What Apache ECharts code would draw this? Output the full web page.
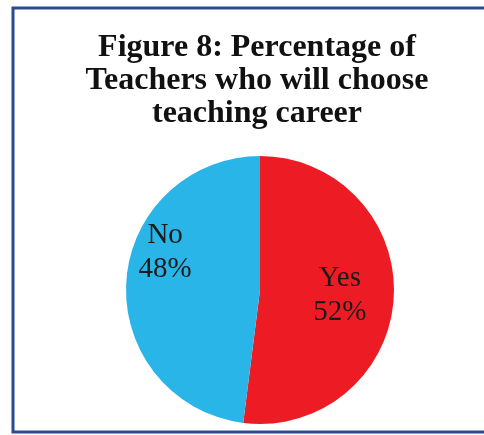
<!DOCTYPE html>
<html>
<head>
<meta charset="utf-8">
<script src="https://cdn.jsdelivr.net/npm/echarts@6/dist/echarts.min.js"></script>
<style>
  html, body { margin: 0; padding: 0; background: #fff; }
  #main { width: 484px; height: 435px; }
</style>
</head>
<body>
<div id="main"></div>
<script>
// data
const categories = ["Yes", "No"];
const values = [52, 48];
const colors = ["#ED1C24", "#29B5E8"];
// label nudges (Excel "best fit" places them off the mid radius)
const labelShift = [[10, 1], [-25, -33]];

const chart = echarts.init(document.getElementById("main"));

const serif = "'Liberation Serif', 'DejaVu Serif', serif";

chart.setOption({
  backgroundColor: "#fff",
  animation: false,
  title: {
    text: "Figure 8: Percentage of\nTeachers who will choose\nteaching career",
    left: 252,
    top: 26,
    textAlign: "center",
    textStyle: {
      fontFamily: serif,
      fontWeight: "bold",
      fontSize: 32,
      lineHeight: 33,
      color: "#111"
    }
  },
  graphic: [{
    type: "rect",
    shape: { x: 13, y: 8, width: 480, height: 424 },
    style: { fill: "none", stroke: "#2B4A92", lineWidth: 3 },
    silent: true
  }],
  series: [{
    type: "pie",
    center: [260, 290],
    radius: 134,
    startAngle: 90,
    clockwise: true,
    data: categories.map((c, i) => ({
      name: c,
      value: values[i],
      itemStyle: { color: colors[i] }
    })),
    label: {
      show: true,
      position: "inside",
      formatter: "{b}\n{d}%",
      fontFamily: serif,
      fontSize: 29,
      lineHeight: 34,
      color: "#1a1a1a"
    },
    labelLayout: function (p) {
      const s = labelShift[p.dataIndex];
      return { dx: s[0], dy: s[1] };
    },
    itemStyle: { borderWidth: 0 },
    emphasis: { disabled: true }
  }]
});
</script>
</body>
</html>
